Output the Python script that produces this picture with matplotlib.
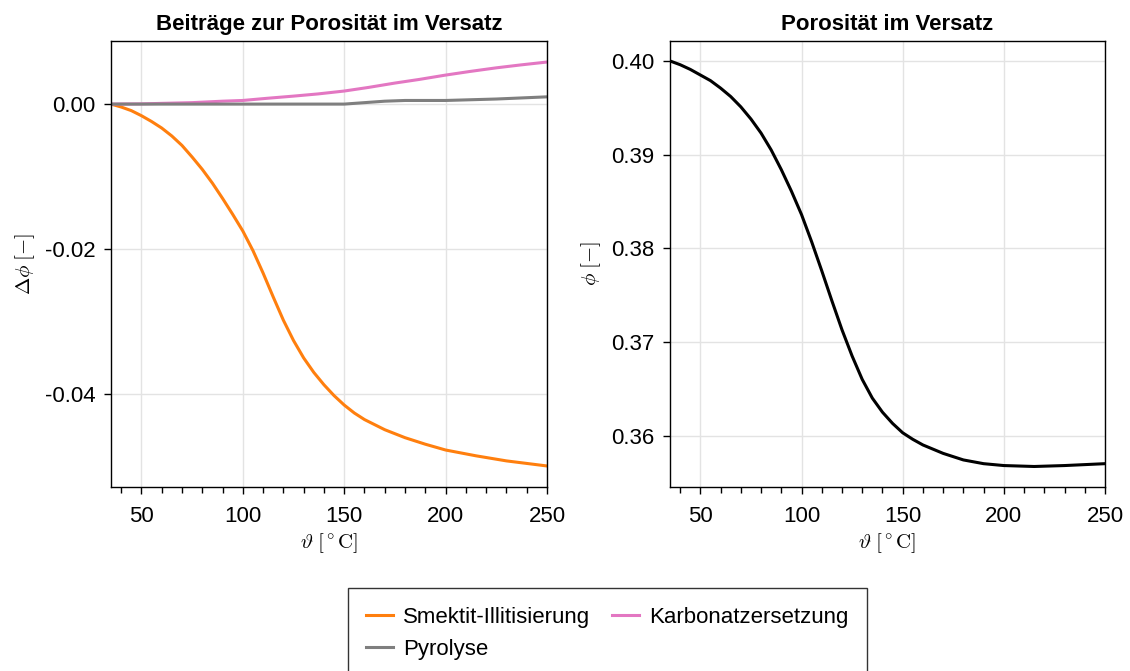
import matplotlib
matplotlib.use("Agg")
import matplotlib.pyplot as plt
from matplotlib.ticker import MultipleLocator, FormatStrFormatter

plt.rcParams['font.family'] = ['Liberation Sans', 'DejaVu Sans']
plt.rcParams['mathtext.fontset'] = 'cm'
plt.rcParams['axes.unicode_minus'] = False

# --- data ---
T_smektit = [35, 40, 45, 50, 55, 60, 65, 70, 75, 80, 85, 90, 95, 100, 105, 110,
             115, 120, 125, 130, 135, 140, 145, 150, 155, 160, 170, 180, 190,
             200, 215, 230, 250]
d_smektit = [0.0, -0.0004, -0.0009, -0.0016, -0.0024, -0.0033, -0.0044, -0.0057,
             -0.0073, -0.0090, -0.0109, -0.0130, -0.0152, -0.0175, -0.0202,
             -0.0233, -0.0266, -0.0298, -0.0326, -0.0350, -0.0370, -0.0387,
             -0.0402, -0.0415, -0.0426, -0.0435, -0.0449, -0.0460, -0.0469,
             -0.0477, -0.0485, -0.0492, -0.0499]

T_karbonat = [35, 50, 60, 75, 90, 100, 112, 125, 137, 150, 162, 175, 187, 200,
              212, 225, 237, 250]
d_karbonat = [0.0, 0.00003, 0.0001, 0.0002, 0.0004, 0.0005, 0.0008, 0.0011,
              0.0014, 0.0018, 0.0023, 0.0029, 0.0034, 0.0040, 0.0045, 0.0050,
              0.0054, 0.0058]

T_pyrolyse = [35, 100, 150, 155, 160, 165, 170, 180, 200, 225, 250]
d_pyrolyse = [0.0, 0.0, 0.0, 0.0001, 0.0002, 0.0003, 0.0004, 0.0005, 0.0005,
              0.0007, 0.0010]

T_phi = [35, 40, 45, 50, 55, 60, 65, 70, 75, 80, 85, 90, 95, 100, 105, 110, 115,
         120, 125, 130, 135, 140, 145, 150, 155, 160, 170, 180, 190, 200, 215,
         230, 250]
phi = [0.4000, 0.3996, 0.3991, 0.3985, 0.3979, 0.3971, 0.3962, 0.3951, 0.3938,
       0.3923, 0.3905, 0.3884, 0.3861, 0.3836, 0.3807, 0.3776, 0.3744, 0.3713,
       0.3685, 0.3660, 0.3640, 0.3625, 0.3613, 0.3603, 0.3596, 0.3590, 0.3581,
       0.3574, 0.3570, 0.3568, 0.3567, 0.3568, 0.3570]

labels = ["Smektit-Illitisierung", "Karbonatzersetzung", "Pyrolyse"]
colors = ["#ff7f0e", "#e377c2", "#7f7f7f"]

W, H = 1130, 671
fig = plt.figure(figsize=(W / 100, H / 100), dpi=100)

def box(x0, y0, x1, y1):
    return [x0 / W, 1 - y1 / H, (x1 - x0) / W, (y1 - y0) / H]

axL = fig.add_axes(box(111, 41, 547, 487))
axR = fig.add_axes(box(670, 41, 1105, 487))

lw = 2.2
hS, = axL.plot(T_smektit, d_smektit, color=colors[0], lw=lw)
hK, = axL.plot(T_karbonat, d_karbonat, color=colors[1], lw=lw)
hP, = axL.plot(T_pyrolyse, d_pyrolyse, color=colors[2], lw=lw)
axR.plot(T_phi, phi, color='black', lw=lw)

axL.set_xlim(35, 250)
axL.set_ylim(-0.0528, 0.0087)
axL.set_yticks([0.0, -0.02, -0.04])
axR.set_xlim(35, 250)
axR.set_ylim(0.35451, 0.40213)
axR.set_yticks([0.36, 0.37, 0.38, 0.39, 0.40])

for ax in (axL, axR):
    ax.set_xticks([50, 100, 150, 200, 250])
    ax.xaxis.set_minor_locator(MultipleLocator(10))
    ax.yaxis.set_major_formatter(FormatStrFormatter('%.2f'))
    ax.tick_params(axis='both', which='major', labelsize=16, length=5,
                   width=1, direction='out', color='black', labelcolor='black')
    ax.tick_params(axis='x', which='major', pad=9)
    ax.tick_params(axis='y', which='major', pad=6)
    ax.tick_params(axis='x', which='minor', length=4, width=1, direction='out')
    ax.grid(True, which='major', color='#e3e3e3', alpha=1.0, lw=1)
    ax.set_axisbelow(True)
    for s in ax.spines.values():
        s.set_linewidth(1.0)
    ax.set_xlabel(r'$\vartheta\;[^\circ\mathrm{C}]$', fontsize=15, labelpad=3)

axL.set_ylabel(r'$\Delta\phi\;[-]$', fontsize=15, labelpad=6)
axR.set_ylabel(r'$\phi\;[-]$', fontsize=15, labelpad=6)
axL.set_title("Beiträge zur Porosität im Versatz", fontsize=16,
              fontweight='bold', pad=8)
axR.set_title("Porosität im Versatz", fontsize=16, fontweight='bold', pad=8)

leg = fig.legend([hS, hP, hK], [labels[0], labels[2], labels[1]],
                 ncol=2, loc='upper center',
                 bbox_to_anchor=(607.5 / W, 1 - 588 / H), borderaxespad=0,
                 fontsize=16, frameon=True, fancybox=False,
                 edgecolor='black', handlelength=1.2, handletextpad=0.45,
                 columnspacing=1.0, borderpad=0.85, labelspacing=0.5)
leg.get_frame().set_linewidth(1.0)

fig.savefig("out.png", dpi=100)
